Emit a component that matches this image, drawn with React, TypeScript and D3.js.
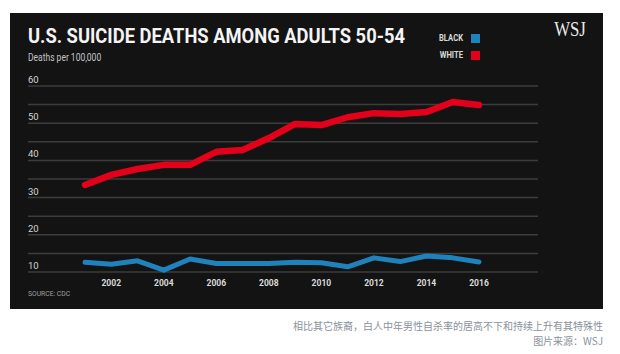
import React from 'react';
import * as d3 from 'd3';

// values
const years = [2001, 2002, 2003, 2004, 2005, 2006, 2007, 2008, 2009, 2010, 2011, 2012, 2013, 2014, 2015, 2016];
const white = [33.4, 36.1, 37.7, 38.8, 38.8, 42.3, 42.8, 46.0, 49.8, 49.5, 51.6, 52.7, 52.5, 53.0, 55.7, 54.9];
const black = [12.6, 12.1, 13.0, 10.5, 13.5, 12.3, 12.3, 12.3, 12.6, 12.5, 11.4, 13.8, 12.8, 14.3, 13.8, 12.7];
const xTicks = [2002, 2004, 2006, 2008, 2010, 2012, 2014, 2016];
const gridValues = [10, 15, 20, 25, 30, 35, 40, 45, 50, 55, 60];
const yLabels = [10, 20, 30, 40, 50, 60];
const legend = [
  { label: 'BLACK', color: '#1f82bd' },
  { label: 'WHITE', color: '#e3001b' },
];

const W = 620;
const H = 354;
const TITLE = 'U.S. SUICIDE DEATHS AMONG ADULTS 50-54';
const condensed = "Roboto, 'DejaVu Sans Condensed', sans-serif";

// squeeze the title to the width it has in the original (condensed face)
function titleScale(): number {
  const ctx = document.createElement('canvas').getContext('2d');
  if (!ctx) return 0.82;
  ctx.font = 'bold 21px Roboto';
  const w = ctx.measureText(TITLE).width;
  return w > 0 ? 377 / w : 0.82;
}

export default function App() {
  const x = d3.scaleLinear().domain([2001, 2016]).range([85, 479]);
  const y = d3.scaleLinear().domain([10, 60]).range([272, 86]);

  const line = d3.line<number>()
    .x((_, i) => x(years[i]))
    .y(d => y(d))
    .curve(d3.curveLinear);

  const sx = titleScale();

  return (
    <svg width={W} height={H} style={{ position: 'absolute', left: 0, top: 0, background: '#fff' }}>
      <rect x={10} y={13} width={593} height={296} fill="#131313" />

      {/* title block */}
      <text transform={`translate(28,43) scale(${sx},1)`} fill="#f4f4f4" fontFamily={condensed}
        fontWeight="bold" fontSize={21}>{TITLE}</text>
      <text transform="translate(28,61) scale(0.85,1)" fill="#c4c4c4" fontFamily={condensed} fontSize={10}>
        Deaths per 100,000</text>
      <text transform="translate(570,36) scale(0.8,1)" fill="#e8e8e8"
        fontFamily="'Liberation Serif', 'DejaVu Serif', serif" fontSize={21} textAnchor="middle">WSJ</text>

      {/* legend */}
      {legend.map((d, i) => (
        <g key={d.label} transform={`translate(0,${38 + i * 17})`}>
          <text transform="translate(463,3) scale(0.85,1)" fill="#dadada" fontFamily={condensed}
            fontWeight="bold" fontSize={9} textAnchor="end">{d.label}</text>
          <rect x={471} y={-4} width={9} height={9} fill={d.color} />
        </g>
      ))}

      {/* grid */}
      {gridValues.map(v => (
        <line key={v} x1={28} x2={538} y1={y(v)} y2={y(v)} stroke="#3c3c3c" strokeWidth={1.5} />
      ))}
      {yLabels.map(v => (
        <text key={v} x={28} y={y(v) - 3} fill="#d4d4d4" fontFamily={condensed} fontSize={9.5}>{v}</text>
      ))}

      {/* series */}
      <path d={line(black) ?? ''} fill="none" stroke="#1f82bd" strokeWidth={5}
        strokeLinejoin="round" strokeLinecap="round" />
      <path d={line(white) ?? ''} fill="none" stroke="#e3001b" strokeWidth={6.5}
        strokeLinejoin="round" strokeLinecap="round" />

      {/* x axis */}
      {xTicks.map(t => (
        <text key={t} transform={`translate(${x(t)},286) scale(0.9,1)`} fill="#dadada" fontFamily={condensed}
          fontWeight="bold" fontSize={9.5} textAnchor="middle">{t}</text>
      ))}
      <text transform="translate(28,296) scale(0.85,1)" fill="#a0a0a0" fontFamily={condensed} fontSize={8}>
        SOURCE: CDC</text>

      {/* caption under the picture */}
      <text x={603} y={330} fill="#8a929b" fontFamily="'Noto Sans CJK SC', sans-serif" fontSize={10}
        textAnchor="end">相比其它族裔，白人中年男性自杀率的居高不下和持续上升有其特殊性</text>
      <text x={603} y={345} fill="#8a929b" fontFamily="'Noto Sans CJK SC', sans-serif" fontSize={10}
        textAnchor="end">图片来源：WSJ</text>
    </svg>
  );
}
